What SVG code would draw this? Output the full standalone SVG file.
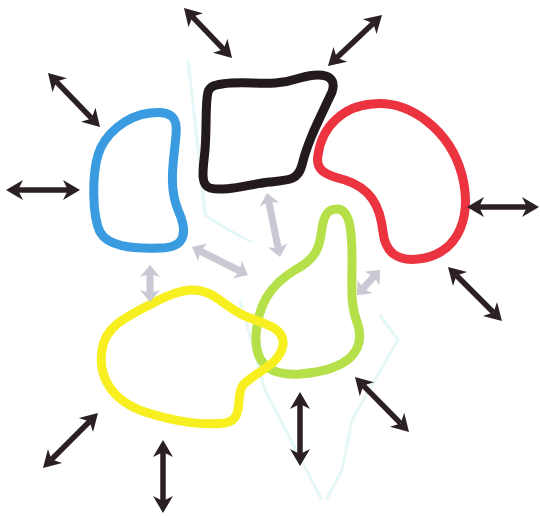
<svg xmlns="http://www.w3.org/2000/svg" width="540" height="516" viewBox="0 0 540 516">
<defs>
<style>
.blob{fill:none;stroke-width:9;stroke-linejoin:round}
.dark{stroke:#2b2024;stroke-width:5.5;fill:none;marker-start:url(#ah);marker-end:url(#ah)}
.grey{stroke:#c9c9d3;stroke-width:7;fill:none;marker-start:url(#gh);marker-end:url(#gh)}
.faint{fill:none;stroke:#e6f7f8;stroke-width:3;stroke-linejoin:round}
</style>
<marker id="ah" viewBox="-6 -12 22 24" markerWidth="22" markerHeight="24" refX="1" refY="0" orient="auto-start-reverse" markerUnits="userSpaceOnUse">
<path d="M-4,-10 L13,0 L-4,10 L1,0 Z" fill="#2b2024"/>
</marker>
<marker id="gh" viewBox="-5 -12 16 24" markerWidth="16" markerHeight="24" refX="0" refY="0" orient="auto-start-reverse" markerUnits="userSpaceOnUse">
<path d="M-3,-10 L9,0 L-3,10 L0,0 Z" fill="#c9c9d3"/>
</marker>
</defs>
<rect width="540" height="516" fill="#ffffff"/>
<g id="background-figure">
<path class="faint" d="M188,60 L196,130 L205,215 Q230,232 252,242"/>
<path class="faint" d="M240,300 L265,390 L322,500"/>
<path class="faint" d="M380,315 L398,340 L352,420 L342,470 L326,500"/>
</g>
<g id="blue"><path class="blob" stroke="#3a9be0" d="M150,113 C172,110 178,118 176,135 C174,160 168,185 178,210 C188,232 186,248 160,248 C130,249 108,246 100,232 C92,215 92,175 98,155 C104,135 125,116 150,113 Z"/></g>
<g id="black"><path class="blob" stroke="#231a1e" d="M222,84 C250,80 270,88 300,78 C320,72 338,74 332,92 C320,118 308,140 302,165 C298,180 290,180 270,182 C250,184 225,192 210,188 C200,185 203,170 205,150 C207,125 205,105 208,92 C210,86 215,85 222,84 Z"/></g>
<g id="red"><path class="blob" stroke="#ec3340" d="M372,104 C410,100 450,130 462,175 C472,215 460,250 425,258 C395,264 385,250 383,232 C380,205 370,188 345,180 C325,175 315,170 318,155 C322,125 345,106 372,104 Z"/></g>
<g id="green"><path class="blob" stroke="#b5e04a" d="M337,209 C350,209 352,230 352,260 C352,290 350,305 358,325 C365,350 350,370 300,374 C265,376 255,360 256,335 C258,305 270,285 295,270 C318,258 320,245 322,228 C324,215 328,209 337,209 Z"/></g>
<g id="yellow"><path class="blob" stroke="#f7ef1f" d="M190,290 C215,288 225,310 250,318 C270,325 285,330 283,345 C280,365 255,372 243,385 C235,395 245,420 225,423 C200,426 170,420 145,412 C110,400 98,375 102,350 C105,325 130,315 155,302 C168,295 178,291 190,290 Z"/></g>
<g id="connectors">
<line class="dark" x1="192.3" y1="16.7" x2="223.7" y2="49.3"/>
<line class="dark" x1="56.3" y1="81.6" x2="91.7" y2="118.4"/>
<line class="dark" x1="18" y1="190" x2="68" y2="190"/>
<line class="dark" x1="373.3" y1="23.2" x2="336.7" y2="57.8"/>
<line class="dark" x1="479" y1="207" x2="527" y2="207"/>
<line class="dark" x1="456.5" y1="275.5" x2="493.5" y2="312.5"/>
<line class="dark" x1="363.4" y1="385.6" x2="400.6" y2="423.4"/>
<line class="dark" x1="300" y1="404" x2="300" y2="454"/>
<line class="dark" x1="89.5" y1="421.5" x2="51.5" y2="459.5"/>
<line class="dark" x1="163" y1="452" x2="163" y2="501"/>
<line class="grey" x1="150" y1="274" x2="150" y2="293"/>
<line class="grey" x1="200.1" y1="251" x2="239.9" y2="271"/>
<line class="grey" x1="268.8" y1="201.8" x2="278.2" y2="248.2"/>
<line class="grey" x1="374.1" y1="276.4" x2="362.9" y2="288.6"/>
</g>
</svg>
